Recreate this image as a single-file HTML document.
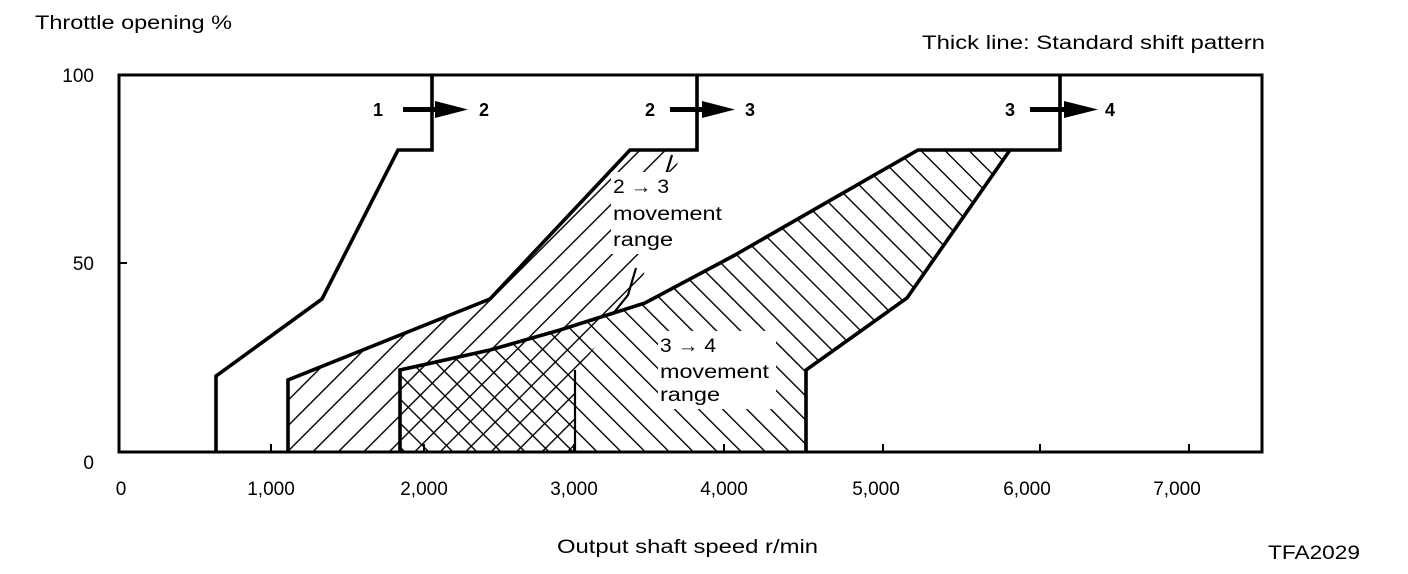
<!DOCTYPE html>
<html><head><meta charset="utf-8"><style>
html,body{margin:0;padding:0;background:#fff;}
svg{display:block;font-family:"Liberation Sans",Arial,sans-serif;}
</style></head><body>
<svg width="1408" height="574" viewBox="0 0 1408 574" xmlns="http://www.w3.org/2000/svg">
<defs>
<pattern id="fw" patternUnits="userSpaceOnUse" width="18" height="18" patternTransform="rotate(45)">
<line x1="0" y1="0" x2="0" y2="18" stroke="#000" stroke-width="2.8"/>
</pattern>
<pattern id="bw" patternUnits="userSpaceOnUse" width="17" height="17" patternTransform="rotate(-45)">
<line x1="0" y1="0" x2="0" y2="17" stroke="#000" stroke-width="2.8"/>
</pattern>
</defs>
<rect width="1408" height="574" fill="#fff"/>
<polygon points="288,452 288,380 490,299 630,150 682,150 655,230 640,290 600,340 575,375 575,452" fill="url(#fw)"/>
<polygon points="400,452 400,370 490,350 560,330 645,303 735,255 918,150 1010,150 907,298 806,370 806,452" fill="url(#bw)"/>
<rect x="119" y="75" width="1143" height="377" fill="none" stroke="#000" stroke-width="3"/>
<g stroke="#000" stroke-width="2">
<line x1="119" y1="263" x2="127" y2="263"/>
<line x1="271" y1="452" x2="271" y2="444"/>
<line x1="424" y1="452" x2="424" y2="444"/>
<line x1="574" y1="452" x2="574" y2="444"/>
<line x1="724" y1="452" x2="724" y2="444"/>
<line x1="883" y1="452" x2="883" y2="444"/>
<line x1="1040" y1="452" x2="1040" y2="444"/>
<line x1="1189" y1="452" x2="1189" y2="444"/>
</g>
<g fill="none" stroke="#000" stroke-width="3.6" stroke-linejoin="miter">
<polyline points="216,452 216,376 322,299 398,150 432,150 432,75"/>
<polyline points="288,452 288,380 490,299 630,150 697,150 697,75"/>
<polyline points="400,452 400,370 490,350 560,330 645,303 735,255 918,150 1060,150 1060,75"/>
<polyline points="1010,150 907,298 806,370 806,452"/>
</g>
<line x1="575" y1="370" x2="575" y2="452" stroke="#000" stroke-width="2.2"/>
<g fill="none" stroke="#000" stroke-width="2.2">
<line x1="665" y1="178" x2="672" y2="155"/>
<polyline points="636,268 628,295 612,315"/>
</g>
<g fill="#000">
<rect x="403" y="107" width="34" height="5"/><polygon points="435,101 468,109.5 435,118"/>
<rect x="670" y="107" width="34" height="5"/><polygon points="702,101 735,109.5 702,118"/>
<rect x="1030" y="107" width="36" height="5"/><polygon points="1064,101 1098,109.5 1064,118"/>
</g>
<g font-weight="bold" font-size="18">
<text x="373" y="116">1</text><text x="479" y="116">2</text>
<text x="645" y="116">2</text><text x="745" y="116">3</text>
<text x="1005" y="116">3</text><text x="1105" y="116">4</text>
</g>
<g font-size="19">
<rect x="611" y="172" width="118" height="82" fill="#fff"/>
<text x="613" y="193" textLength="56" lengthAdjust="spacingAndGlyphs">2 → 3</text>
<text x="613" y="220" textLength="109" lengthAdjust="spacingAndGlyphs">movement</text>
<text x="613" y="246" textLength="60" lengthAdjust="spacingAndGlyphs">range</text>
<rect x="658" y="331" width="118" height="78" fill="#fff"/>
<text x="660" y="352" textLength="56" lengthAdjust="spacingAndGlyphs">3 → 4</text>
<text x="660" y="378" textLength="109" lengthAdjust="spacingAndGlyphs">movement</text>
<text x="660" y="401" textLength="60" lengthAdjust="spacingAndGlyphs">range</text>
</g>
<g font-size="19">
<text x="35" y="29" textLength="197" lengthAdjust="spacingAndGlyphs">Throttle opening %</text>
<text x="922" y="49" textLength="343" lengthAdjust="spacingAndGlyphs">Thick line: Standard shift pattern</text>
<text x="94" y="82" text-anchor="end">100</text>
<text x="94" y="270" text-anchor="end">50</text>
<text x="94" y="469" text-anchor="end">0</text>
<g text-anchor="middle">
<text x="121" y="495">0</text>
<text x="271" y="495">1,000</text>
<text x="424" y="495">2,000</text>
<text x="574" y="495">3,000</text>
<text x="724" y="495">4,000</text>
<text x="876" y="495">5,000</text>
<text x="1027" y="495">6,000</text>
<text x="1177" y="495">7,000</text>
</g>
<text x="557" y="553" textLength="261" lengthAdjust="spacingAndGlyphs">Output shaft speed r/min</text>
<text x="1268" y="559" textLength="92" lengthAdjust="spacingAndGlyphs">TFA2029</text>
</g>
</svg>
</body></html>
